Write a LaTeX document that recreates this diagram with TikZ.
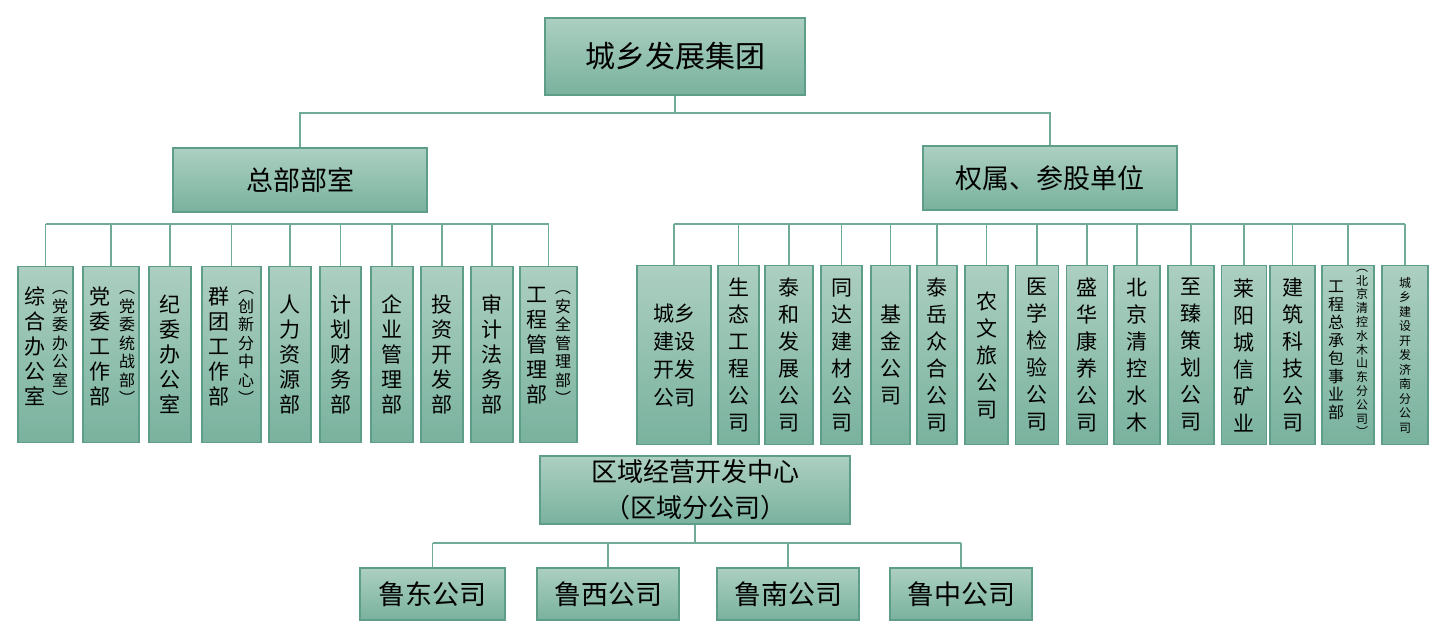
\documentclass[tikz,border=0pt]{standalone}
\usepackage{fontspec}
\setmainfont{Noto Sans CJK SC}
\usetikzlibrary{positioning}

\definecolor{boxtop}{RGB}{172,207,193}
\definecolor{boxbot}{RGB}{121,178,158}
\definecolor{boxedge}{RGB}{94,158,136}
\definecolor{linkc}{RGB}{112,170,152}

\begin{document}
\begin{tikzpicture}[x=1pt, y=-1pt,
    unit/.style={draw=boxedge, line width=1.2pt, top color=boxtop, bottom color=boxbot, inner sep=0pt, align=center},
    head/.style={unit, font=\fontsize{27}{36}\selectfont},
    col/.style={unit, minimum height=176pt, font=\fontsize{21}{25}\selectfont},
    rcol/.style={unit, minimum height=179pt, font=\fontsize{21}{27}\selectfont},
    vmain/.style={inner sep=0pt, align=center, font=\fontsize{21}{25}\selectfont},
    vsub/.style={inner sep=0pt, align=center, font=\fontsize{16}{18.5}\selectfont},
    link/.style={draw=linkc, line width=1.3pt}]
    \useasboundingbox (0,0) rectangle (1440,638);

    % top levels
    \node[head, minimum width=260pt, minimum height=77pt, font=\fontsize{30}{34}\selectfont] (grp) at (675,56.5) {城乡发展集团};
    \node[head, minimum width=254pt, minimum height=64pt] (hq) at (300,180) {总部部室};
    \node[head, minimum width=254pt, minimum height=64pt] (sub) at (1050,178) {权属、参股单位};

    % headquarters departments
    \node[col, minimum width=55pt] (zhb) at (45.5,354.5) {};
    \node[vmain] (zhm) at (35,346) {综\\合\\办\\公\\室};
    \node[vsub] (zhs) at (60,348) {︵\\党\\委\\办\\公\\室\\︶};
    \node[col, minimum width=56pt] (dwb) at (111,354.5) {};
    \node[vmain] (dwm) at (100,346) {党\\委\\工\\作\\部};
    \node[vsub] (dws) at (127,348) {︵\\党\\委\\统\\战\\部\\︶};
    \node[col, minimum width=42pt] (jwb) at (170,354.5) {纪\\委\\办\\公\\室};
    \node[col, minimum width=59pt] (qtb) at (231.5,354.5) {};
    \node[vmain] (qtm) at (219,346) {群\\团\\工\\作\\部};
    \node[vsub] (qts) at (246,348) {︵\\创\\新\\分\\中\\心\\︶};
    \node[col, minimum width=42pt] (rlb) at (290,354.5) {人\\力\\资\\源\\部};
    \node[col, minimum width=41pt] (jhb) at (340.5,354.5) {计\\划\\财\\务\\部};
    \node[col, minimum width=42pt] (qyb) at (392,354.5) {企\\业\\管\\理\\部};
    \node[col, minimum width=42pt] (tzb) at (442,354.5) {投\\资\\开\\发\\部};
    \node[col, minimum width=42pt] (sjb) at (492,354.5) {审\\计\\法\\务\\部};
    \node[col, minimum width=57pt] (gcb) at (548.5,354.5) {};
    \node[vmain] (gcm) at (537,346) {工\\程\\管\\理\\部};
    \node[vsub] (gcs) at (563,348) {︵\\安\\全\\管\\理\\部\\︶};

    % subsidiaries
    \node[rcol, minimum width=74pt, font=\fontsize{21}{28}\selectfont] (cxb) at (674,355) {城乡\\建设\\开发\\公司};
    \node[rcol, minimum width=41pt] (stb) at (738.5,355) {生\\态\\工\\程\\公\\司};
    \node[rcol, minimum width=48pt] (thb) at (789,355) {泰\\和\\发\\展\\公\\司};
    \node[rcol, minimum width=41pt] (tdb) at (841.5,355) {同\\达\\建\\材\\公\\司};
    \node[rcol, minimum width=39pt] (jjb) at (890.5,355) {基\\金\\公\\司};
    \node[rcol, minimum width=40pt] (tyb) at (937,355) {泰\\岳\\众\\合\\公\\司};
    \node[rcol, minimum width=43pt] (nwb) at (986.5,355) {农\\文\\旅\\公\\司};
    \node[rcol, minimum width=43pt] (yxb) at (1037,355) {医\\学\\检\\验\\公\\司};
    \node[rcol, minimum width=41pt] (shb) at (1087,355) {盛\\华\\康\\养\\公\\司};
    \node[rcol, minimum width=46pt] (bjb) at (1137,355) {北\\京\\清\\控\\水\\木};
    \node[rcol, minimum width=46pt] (zzb) at (1191,355) {至\\臻\\策\\划\\公\\司};
    \node[rcol, minimum width=45pt] (lyb) at (1244,355) {莱\\阳\\城\\信\\矿\\业};
    \node[rcol, minimum width=45pt] (jzb) at (1292.5,355) {建\\筑\\科\\技\\公\\司};
    \node[rcol, minimum width=52pt] (zcb) at (1348,355) {};
    \node[vmain, font=\fontsize{16}{18}\selectfont] (zcm) at (1336,350) {工\\程\\总\\承\\包\\事\\业\\部};
    \node[vsub, font=\fontsize{12}{13.8}\selectfont] (zcs) at (1362,353) {︵\\北\\京\\清\\控\\水\\木\\山\\东\\分\\公\\司\\︶};
    \node[rcol, minimum width=46pt, font=\fontsize{12}{14.5}\selectfont] (jnb) at (1405,355) {城\\乡\\建\\设\\开\\发\\济\\南\\分\\公\\司};

    % regional centre and branches
    \node[head, minimum width=310pt, minimum height=68pt, font=\fontsize{26}{36}\selectfont] (reg) at (695,490) {区域经营开发中心\\（区域分公司）};
    \node[head, minimum width=145pt, minimum height=52pt] (lud) at (432.5,594) {鲁东公司};
    \node[head, minimum width=142pt, minimum height=52pt] (lux) at (608,594) {鲁西公司};
    \node[head, minimum width=142pt, minimum height=52pt] (lun) at (788,594) {鲁南公司};
    \node[head, minimum width=142pt, minimum height=52pt] (luz) at (961,594) {鲁中公司};

    % bus lines
    \coordinate (tbus) at (0,113);
    \coordinate (lbus) at (0,224);
    \coordinate (rbus) at (0,224);
    \coordinate (bbus) at (0,543);

    \draw[link] (grp.south) -- (grp.south |- tbus);
    \draw[link] (hq.north) |- (tbus -| grp.south) -| (sub.north);

    \draw[link] (zhb.north |- lbus) -- (gcb.north |- lbus);
    \draw[link] (zhb.north) -- (zhb.north |- lbus);
    \draw[link] (dwb.north) -- (dwb.north |- lbus);
    \draw[link] (jwb.north) -- (jwb.north |- lbus);
    \draw[link] (qtb.north) -- (qtb.north |- lbus);
    \draw[link] (rlb.north) -- (rlb.north |- lbus);
    \draw[link] (jhb.north) -- (jhb.north |- lbus);
    \draw[link] (qyb.north) -- (qyb.north |- lbus);
    \draw[link] (tzb.north) -- (tzb.north |- lbus);
    \draw[link] (sjb.north) -- (sjb.north |- lbus);
    \draw[link] (gcb.north) -- (gcb.north |- lbus);

    \draw[link] (cxb.north |- rbus) -- (jnb.north |- rbus);
    \draw[link] (cxb.north) -- (cxb.north |- rbus);
    \draw[link] (stb.north) -- (stb.north |- rbus);
    \draw[link] (thb.north) -- (thb.north |- rbus);
    \draw[link] (tdb.north) -- (tdb.north |- rbus);
    \draw[link] (jjb.north) -- (jjb.north |- rbus);
    \draw[link] (tyb.north) -- (tyb.north |- rbus);
    \draw[link] (nwb.north) -- (nwb.north |- rbus);
    \draw[link] (yxb.north) -- (yxb.north |- rbus);
    \draw[link] (shb.north) -- (shb.north |- rbus);
    \draw[link] (bjb.north) -- (bjb.north |- rbus);
    \draw[link] (zzb.north) -- (zzb.north |- rbus);
    \draw[link] (lyb.north) -- (lyb.north |- rbus);
    \draw[link] (jzb.north) -- (jzb.north |- rbus);
    \draw[link] (zcb.north) -- (zcb.north |- rbus);
    \draw[link] (jnb.north) -- (jnb.north |- rbus);

    \draw[link] (reg.south) -- (reg.south |- bbus);
    \draw[link] (lud.north |- bbus) -- (luz.north |- bbus);
    \draw[link] (lud.north) -- (lud.north |- bbus);
    \draw[link] (lux.north) -- (lux.north |- bbus);
    \draw[link] (lun.north) -- (lun.north |- bbus);
    \draw[link] (luz.north) -- (luz.north |- bbus);

\end{tikzpicture}
\end{document}
